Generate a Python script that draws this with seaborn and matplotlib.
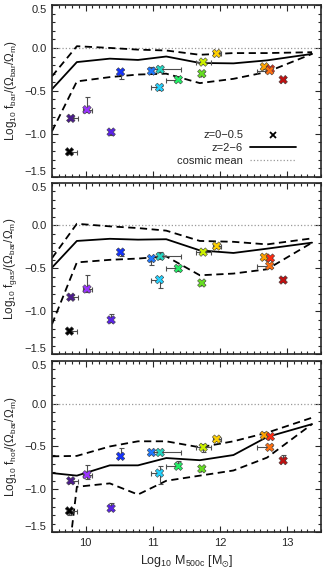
import numpy as np
import pandas as pd
import matplotlib
matplotlib.use('Agg')
import matplotlib.pyplot as plt
import seaborn as sns
from matplotlib.lines import Line2D
from matplotlib.legend_handler import HandlerLine2D
from matplotlib.ticker import MultipleLocator

# observed groups / clusters (same masses in all three panels)
mass = [9.76, 9.78, 10.02, 10.38, 10.52, 10.98, 11.11, 11.10, 11.38, 11.73,
        11.75, 11.95, 12.66, 12.75, 12.74, 12.94]
mass_lo = [0.02, 0.02, 0.06, 0.02, 0.02, 0.02, 0.10, 0.13, 0.19, 0.02,
           0.10, 0.06, 0.02, 0.02, 0.19, 0.03]
mass_hi = [0.11, 0.10, 0.07, 0.02, 0.02, 0.02, 0.31, 0.02, 0.02, 0.02,
           0.12, 0.06, 0.02, 0.03, 0.02, 0.03]
colors = ['#000000', '#4b1c8c', '#9a33ff', '#5a22e6', '#1432ff', '#1e78ff',
          '#22d6c2', '#22d2ff', '#22f066', '#66dd22', '#ccf000', '#ffd000',
          '#ffa200', '#ff2a10', '#ff7010', '#c01010']

f_bar = [-1.21, -0.82, -0.72, -0.98, -0.28, -0.27, -0.25, -0.46, -0.37, -0.30,
         -0.165, -0.065, -0.22, -0.245, -0.265, -0.37]
f_bar_lo = [0.02, 0.02, 0.03, 0.03, 0.08, 0.02, 0.03, 0.03, 0.02, 0.02,
            0.02, 0.02, 0.02, 0.02, 0.02, 0.02]
f_bar_hi = [0.02, 0.02, 0.15, 0.02, 0.02, 0.05, 0.03, 0.02, 0.02, 0.02,
            0.02, 0.02, 0.02, 0.02, 0.02, 0.02]

f_gas = [-1.23, -0.835, -0.74, -1.10, -0.31, -0.385, -0.36, -0.63, -0.50, -0.67,
         -0.31, -0.24, -0.37, -0.38, -0.47, -0.635]
f_gas_lo = [0.02, 0.02, 0.03, 0.02, 0.05, 0.08, 0.03, 0.10, 0.03, 0.02,
            0.02, 0.02, 0.02, 0.02, 0.02, 0.02]
f_gas_hi = [0.02, 0.02, 0.16, 0.07, 0.02, 0.02, 0.05, 0.03, 0.03, 0.02,
            0.02, 0.02, 0.02, 0.02, 0.02, 0.04]

f_hot = [-1.25, -0.90, -0.83, -1.22, -0.615, -0.57, -0.57, -0.81, -0.73, -0.76,
         -0.51, -0.415, -0.37, -0.385, -0.51, -0.665]
f_hot_lo = [0.05, 0.02, 0.05, 0.02, 0.02, 0.02, 0.02, 0.13, 0.02, 0.02,
            0.05, 0.02, 0.02, 0.02, 0.02, 0.02]
f_hot_hi = [0.02, 0.02, 0.11, 0.06, 0.10, 0.02, 0.02, 0.08, 0.06, 0.02,
            0.04, 0.02, 0.02, 0.02, 0.02, 0.07]

# simulation median and scatter (z=2-6)
sim_mass = [9.50, 9.87, 10.36, 10.78, 11.20, 11.70, 12.20, 12.70, 13.37]
bar_med = [-0.48, -0.165, -0.125, -0.14, -0.10, -0.175, -0.18, -0.145, -0.07]
bar_up = [-0.33, 0.02, 0.00, -0.02, -0.03, -0.08, -0.06, -0.06, -0.05]
bar_dn = [-0.97, -0.39, -0.34, -0.31, -0.30, -0.41, -0.36, -0.28, -0.07]
gas_med = [-0.49, -0.18, -0.155, -0.165, -0.16, -0.29, -0.32, -0.27, -0.20]
gas_up = [-0.38, 0.02, -0.01, -0.03, -0.06, -0.18, -0.19, -0.22, -0.15]
gas_dn = [-1.15, -0.43, -0.40, -0.385, -0.36, -0.58, -0.56, -0.51, -0.20]
hot_med = [-0.81, -0.84, -0.72, -0.72, -0.635, -0.66, -0.60, -0.39, -0.24]
hot_up = [-0.615, -0.61, -0.50, -0.44, -0.44, -0.51, -0.44, -0.34, -0.165]
hot_dn = [-3.40, -0.97, -0.93, -1.06, -0.90, -0.84, -0.78, -0.63, -0.24]

yticks = [-1.5, -1.0, -0.5, 0.0, 0.5]
xticks = [10, 11, 12, 13]
ylabels = ['Log$_{10}$ f$_{bar}$/($\\Omega_{bar}$/$\\Omega_m$)',
           'Log$_{10}$ f$_{gas}$/($\\Omega_{bar}$/$\\Omega_m$)',
           'Log$_{10}$ f$_{hot}$/($\\Omega_{bar}$/$\\Omega_m$)']

sns.set_style('ticks')
plt.rcParams['font.family'] = ['Liberation Sans', 'DejaVu Sans']
plt.rcParams['mathtext.fontset'] = 'custom'
plt.rcParams['mathtext.rm'] = 'Liberation Sans'
plt.rcParams['mathtext.it'] = 'Liberation Sans'
plt.rcParams['mathtext.default'] = 'regular'
plt.rcParams['font.size'] = 8


class LeftMarker(HandlerLine2D):
    def get_xdata(self, legend, xdescent, ydescent, width, height, fontsize):
        xd, xm = super().get_xdata(legend, xdescent, ydescent, width, height, fontsize)
        return xd, np.array([-xdescent + 0.12 * width])


fig = plt.figure(figsize=(3.27, 5.73), dpi=100)
boxes = [[0.159, 0.6916, 0.822, 0.2997],
         [0.159, 0.3817, 0.822, 0.2997],
         [0.159, 0.0710, 0.822, 0.2997]]

panels = [(f_bar, f_bar_lo, f_bar_hi, bar_med, bar_up, bar_dn),
          (f_gas, f_gas_lo, f_gas_hi, gas_med, gas_up, gas_dn),
          (f_hot, f_hot_lo, f_hot_hi, hot_med, hot_up, hot_dn)]

for i, (box, p) in enumerate(zip(boxes, panels)):
    ax = fig.add_axes(box)
    f, flo, fhi, med, up, dn = p

    sim = pd.DataFrame({'m': sim_mass, 'med': med, 'up': up, 'dn': dn})
    ax.axhline(0.0, color='0.6', ls=':', lw=0.9, zorder=1)
    sns.lineplot(data=sim, x='m', y='med', ax=ax, color='k', lw=1.3,
                 sort=False, estimator=None, zorder=2)
    sns.lineplot(data=sim, x='m', y='up', ax=ax, color='k', lw=1.3,
                 ls=(0, (4, 2.5)), sort=False, estimator=None, zorder=2)
    sns.lineplot(data=sim, x='m', y='dn', ax=ax, color='k', lw=1.3,
                 ls=(0, (4, 2.5)), sort=False, estimator=None, zorder=2)

    ax.errorbar(mass, f, xerr=[mass_lo, mass_hi], yerr=[flo, fhi], fmt='none',
                ecolor='0.3', elinewidth=0.8, capsize=1.8, capthick=0.8, zorder=3)
    obs = pd.DataFrame({'m': mass, 'f': f, 'c': range(len(mass))})
    sns.scatterplot(data=obs, x='m', y='f', hue='c', palette=colors, ax=ax,
                    marker='X', s=38, edgecolor='0.25', linewidth=0.4,
                    legend=False, zorder=4)

    ax.set_xlim(9.5, 13.5)
    ax.set_ylim(-1.5, 0.5)
    ax.set_xticks(xticks)
    ax.xaxis.set_minor_locator(MultipleLocator(0.1))
    ax.set_yticks(yticks, [('%.1f' % v).replace('-', '\u2212') for v in yticks])
    ax.yaxis.set_minor_locator(MultipleLocator(0.1))
    ax.tick_params(which='both', direction='in', top=True, right=True,
                   width=0.8, labelsize=8, pad=4)
    ax.tick_params(which='major', length=4)
    ax.tick_params(which='minor', length=2)
    for s in ax.spines.values():
        s.set_linewidth(1.2)
    # IDL-like: end labels pulled inside the panel
    ylab = ax.get_yticklabels()
    ylab[0].set_va('bottom')
    ylab[-1].set_va('top')
    ax.set_ylabel(ylabels[i], fontsize=8.5)
    ax.yaxis.set_label_coords(-0.122, 0.5)
    if i < 2:
        ax.set_xticklabels([])
        ax.set_xlabel('')
    else:
        ax.set_xlabel('Log$_{10}$ M$_{500c}$ [M$_{\\odot}$]', fontsize=9, labelpad=4)

    if i == 0:
        handles = [Line2D([], [], color='k', marker='x', ls='none', ms=5, mew=1.3),
                   Line2D([], [], color='k', lw=1.3),
                   Line2D([], [], color='0.6', ls=':', lw=0.9)]
        ax.legend(handles, ['z=0\u22120.5', 'z=2\u22126', 'cosmic mean'],
                  loc='lower right', bbox_to_anchor=(0.93, 0.03), frameon=False,
                  markerfirst=False, handlelength=4.2, handletextpad=0.6,
                  labelspacing=0.25, fontsize=8, borderpad=0,
                  handler_map={handles[0]: LeftMarker(numpoints=1)})

fig.savefig('out.png', dpi=100)
